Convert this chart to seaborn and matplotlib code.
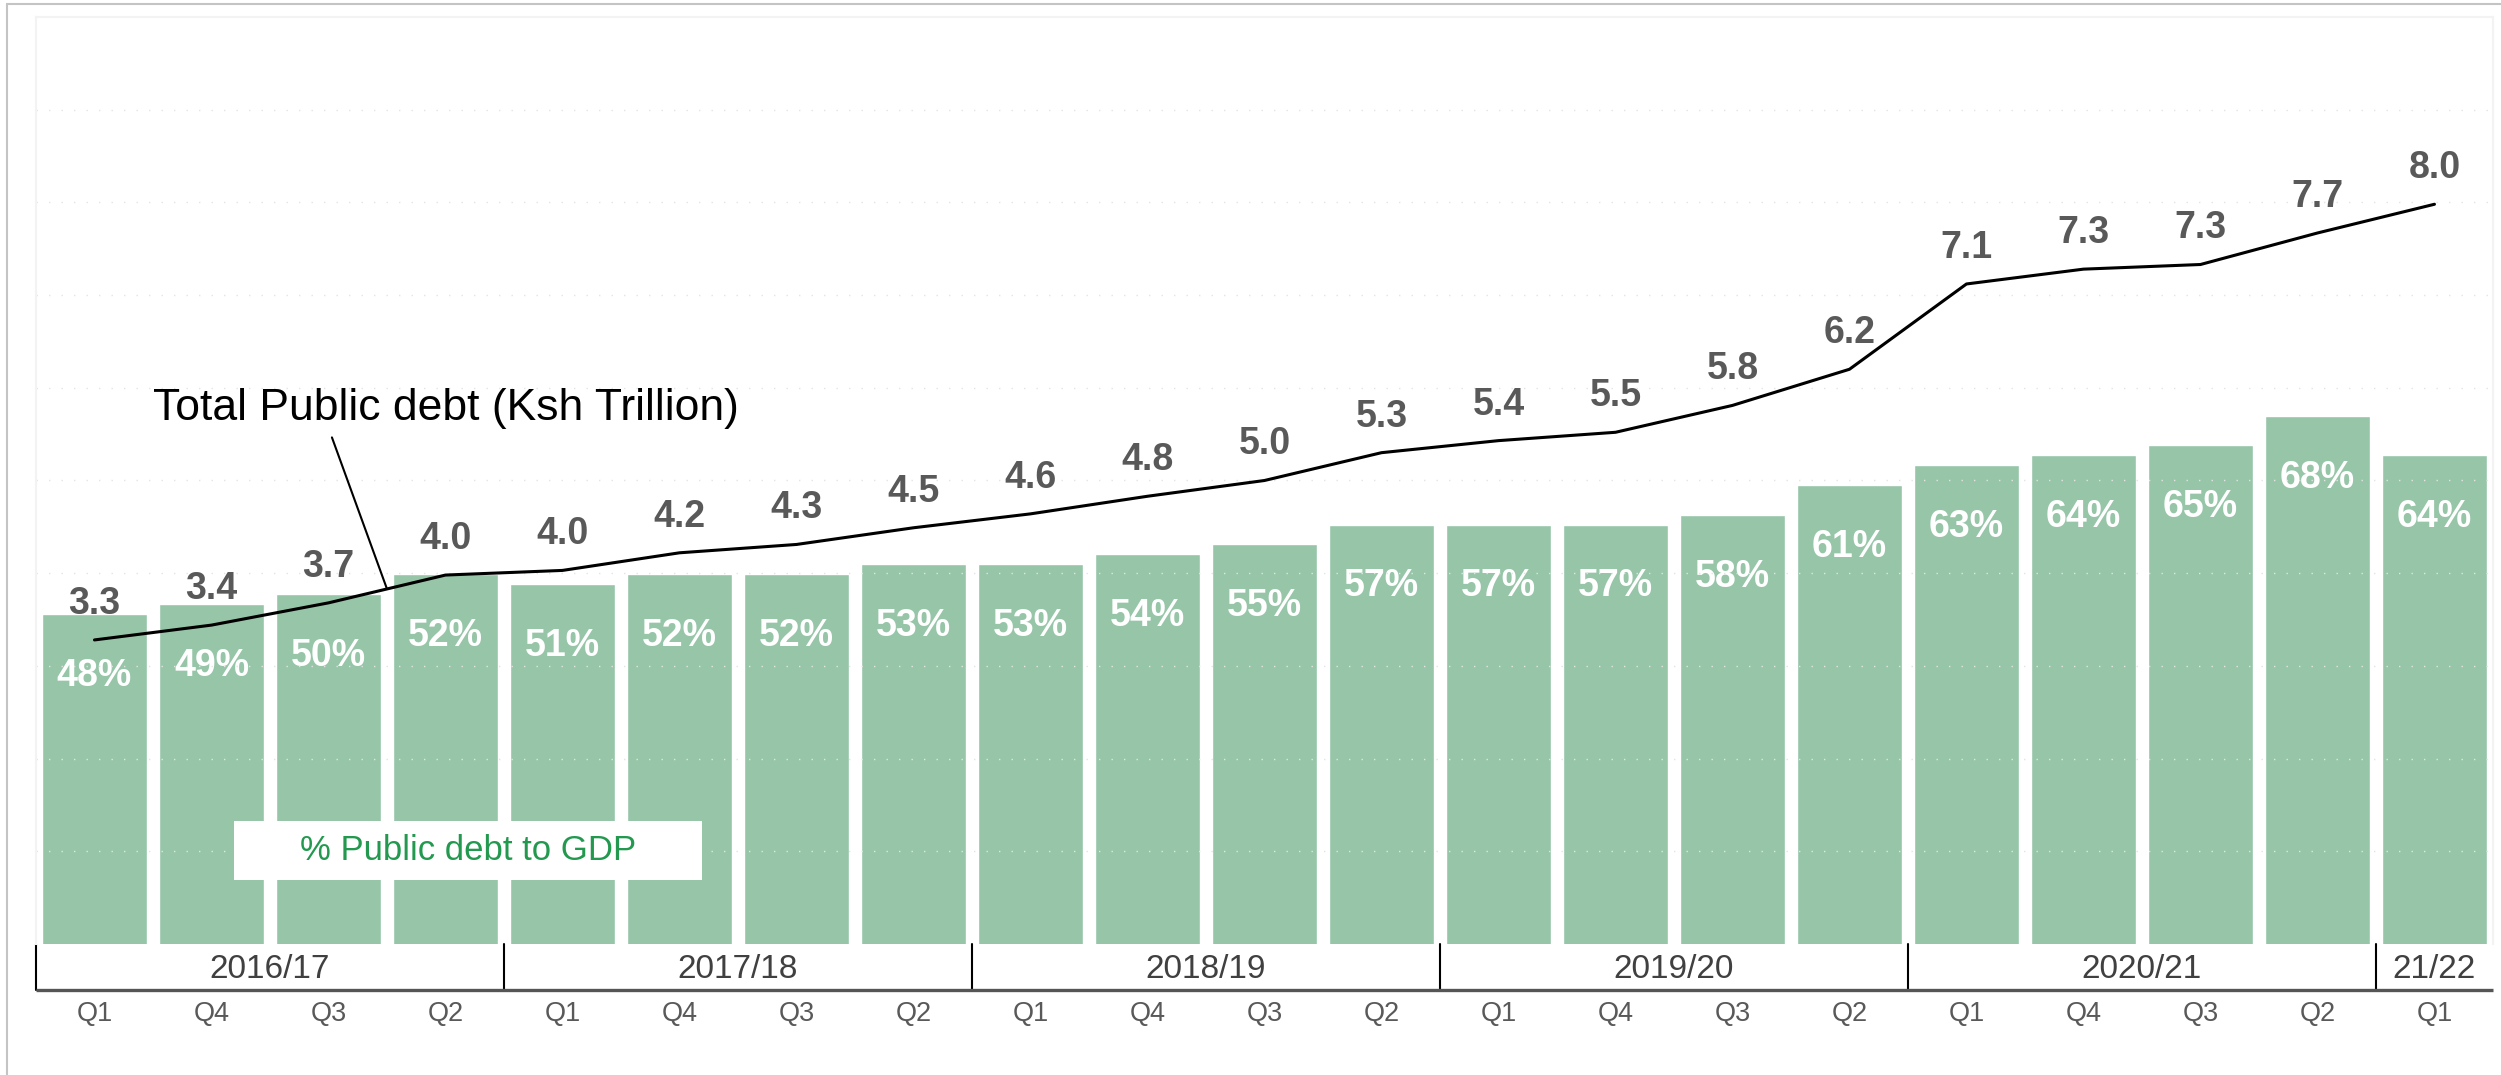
import numpy as np
import pandas as pd
import matplotlib.pyplot as plt
import matplotlib.transforms as mtransforms
from matplotlib.patches import Rectangle
from matplotlib.lines import Line2D
import seaborn as sns

# Data
years = ['2016/17', '2017/18', '2018/19', '2019/20', '2020/21', '21/22']
year_sizes = [4, 4, 4, 4, 4, 1]
quarters = ['Q1', 'Q4', 'Q3', 'Q2'] * 5 + ['Q1']
debt_gdp = [48, 49, 50, 52, 51, 52, 52, 53, 53, 54, 55, 57, 57, 57, 58, 61, 63, 64, 65, 68, 64]
debt_total = [3.28, 3.44, 3.68, 3.98, 4.03, 4.22, 4.31, 4.49, 4.64, 4.83, 5.0,
              5.3, 5.43, 5.52, 5.81, 6.2, 7.12, 7.28, 7.33, 7.67, 7.98]

sns.set_theme(style='white')
plt.rcParams['font.family'] = ['Liberation Sans', 'DejaVu Sans']

bar_color = '#96C5A8'
label_grey = '#595959'

year_of_bar = np.repeat(years, year_sizes)
period = [f'{y} {q}' for y, q in zip(year_of_bar, quarters)]
df = pd.DataFrame({'period': period, 'pct': debt_gdp, 'debt': debt_total})
x = np.arange(len(df))

fig = plt.figure(figsize=(25.01, 10.75), dpi=100)
ax = fig.add_axes([0.01439, 0.12186, 0.9824, 0.86233])

# Bars: % public debt to GDP
sns.barplot(data=df, x='period', y='pct', color=bar_color, saturation=1,
            width=0.9, ax=ax)
ax.set_ylim(14.6, 108.3)
ax.set_xlim(-0.5, len(df) - 0.5)
for s in ax.spines.values():
    s.set_visible(False)
ax.set_yticks([])
ax.set_xlabel('')
ax.set_ylabel('')
ax.set_xticks(x)
ax.set_xticklabels(quarters, fontsize=19.5, color=label_grey)
ax.tick_params(axis='x', length=0, pad=41)

for xi, v in zip(x, debt_gdp):
    ax.annotate(f'{v}%', (xi, v), xytext=(0, -44.6), textcoords='offset points',
                ha='center', va='center', color='white', fontsize=27,
                fontweight='bold')

# Line: total public debt
ax2 = ax.twinx()
sns.lineplot(x=x, y=debt_total, ax=ax2, color='black', lw=2.2)
ax2.set_ylim(0, 10)
ax2.set_xlim(-0.5, len(df) - 0.5)
ax2.set_yticks(range(1, 10))
ax2.tick_params(axis='y', length=0, labelright=False, labelleft=False)
ax2.grid(axis='y', color='#e4e4e4', linestyle=(0, (1, 8)), lw=1.0)
ax2.set_xlabel('')
ax2.set_ylabel('')
for side in ['top', 'left', 'right']:
    ax2.spines[side].set_color('#f3f3f3')
    ax2.spines[side].set_linewidth(1.5)
ax2.spines['bottom'].set_visible(False)

for xi, v in zip(x, debt_total):
    ax2.annotate(f'{v:.1f}', (xi, v), xytext=(0, 26), textcoords='offset points',
                 ha='center', va='center', color=label_grey, fontsize=27,
                 fontweight='bold')

ax2.annotate('Total Public debt (Ksh Trillion)',
             xy=(2.5, (debt_total[2] + debt_total[3]) / 2),
             xytext=(42.5, 130), textcoords='offset points',
             ha='center', va='center', fontsize=32, color='black',
             arrowprops=dict(arrowstyle='-', color='black', lw=1.5,
                             relpos=(0.3, 0), shrinkA=4, shrinkB=0))

# label box for the bars
ax2.add_patch(Rectangle((0.0806, 0.069), 0.1905, 0.0637, transform=ax2.transAxes,
                        facecolor='white', edgecolor='none', zorder=5))
ax2.text(0.1758, 0.101, '% Public debt to GDP', transform=ax2.transAxes,
         ha='center', va='center', fontsize=25, color='#23994F', zorder=6)

# two level category axis
trans = mtransforms.blended_transform_factory(ax.transData, ax.transAxes)
bounds = np.concatenate([[0], np.cumsum(year_sizes)]) - 0.5
base_y = -0.0496
for b in bounds[:-1]:
    ax.plot([b, b], [0, base_y], transform=trans, color='black', lw=1.5,
            clip_on=False)
ax.plot([bounds[0], bounds[-1]], [base_y, base_y], transform=trans,
        color='#555555', lw=2.4, clip_on=False, solid_capstyle='butt')
for yr, a, b in zip(years, bounds[:-1], bounds[1:]):
    ax.text((a + b) / 2, -0.027, yr, transform=trans, ha='center', va='center',
            fontsize=24, color='#404040')

# outer frame
fig.add_artist(Line2D([0.0028, 0.0028], [0, 0.9963], color='#c4c4c4', lw=1.5,
                      transform=fig.transFigure))
fig.add_artist(Line2D([0.0028, 1], [0.9963, 0.9963], color='#c4c4c4', lw=1.5,
                      transform=fig.transFigure))

fig.savefig('out.png', dpi=100)
